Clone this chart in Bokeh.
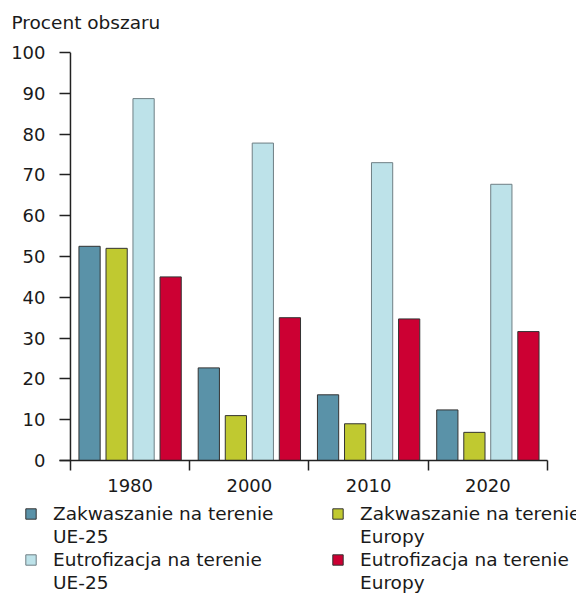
import numpy as np
from bokeh.plotting import figure
from bokeh.layouts import column
from bokeh.models import (ColumnDataSource, FixedTicker, Legend, LegendItem, Range1d, Span, Label)
from bokeh.transform import dodge
from bokeh.embed import file_html
from bokeh.resources import INLINE

years = ["1980", "2000", "2010", "2020"]
zakw_ue25 = [52.5, 22.7, 16.1, 12.4]
zakw_eur = [52.0, 11.0, 9.0, 6.9]
eutr_ue25 = [88.7, 77.8, 73.0, 67.7]
eutr_eur = [45.0, 35.0, 34.7, 31.6]
label_line1 = ["Zakwaszanie na terenie", "Zakwaszanie na terenie",
               "Eutrofizacja na terenie", "Eutrofizacja na terenie"]
label_line2 = ["UE-25", "Europy", "UE-25", "Europy"]
title_text = "Procent obszaru"
colors = ["#5a92a8", "#c0c930", "#bde2e9", "#cc0033"]
outlines = ["#333333", "#333333", "#6f7f84", "#333333"]
y_ticks = [0, 10, 20, 30, 40, 50, 60, 70, 80, 90, 100]

FONT = "DejaVu Sans"
TXT = "#1a1a1a"


def no_align(fig):
    if "frame_align" in fig.properties():
        fig.frame_align = False


xc = np.arange(len(years)) + 0.5
src = ColumnDataSource(dict(x=xc, a=zakw_ue25, b=zakw_eur, c=eutr_ue25, d=eutr_eur))
keys = ["a", "b", "c", "d"]

# ---- header with the unit label ----
hd = figure(width=576, height=36, output_backend="svg", toolbar_location=None,
            x_range=Range1d(0, 1), y_range=Range1d(0, 1),
            x_axis_location=None, y_axis_location=None,
            min_border_left=0, min_border_right=0, min_border_top=0, min_border_bottom=0)
hd.outline_line_color = None
hd.grid.grid_line_color = None
no_align(hd)
hd.add_layout(Label(x=11, y=14.5, x_units="screen", y_units="screen", text=title_text,
                    text_font=FONT, text_font_size="18.5px", text_color=TXT,
                    text_baseline="middle", text_align="left"))

# ---- main chart ----
p = figure(frame_width=488, frame_height=408, output_backend="svg", toolbar_location=None,
           x_range=Range1d(-0.092, 4), y_range=Range1d(0, 100),
           min_border_left=59, min_border_right=29, min_border_top=16, min_border_bottom=43)
p.outline_line_color = None
p.grid.grid_line_color = None
no_align(p)

offs = [-0.34, -0.113, 0.113, 0.34]
for key, off, col, lc in zip(keys, offs, colors, outlines):
    p.vbar(x=dodge("x", off), top=key, width=0.178, bottom=0, source=src,
           fill_color=col, line_color=lc, line_width=1)

ya = p.yaxis[0]
ya.ticker = FixedTicker(ticks=y_ticks)
ya.axis_line_color = None
ya.major_tick_in = 11
ya.major_tick_out = 0
ya.minor_tick_line_color = None
ya.major_label_standoff = 14
ya.major_label_text_font = FONT
ya.major_label_text_font_size = "18px"
ya.major_label_text_color = TXT
ya.major_tick_line_color = "#222222"
ya.major_tick_line_width = 1.5

p.add_layout(Span(location=0, dimension="height", line_color="#222222", line_width=1.5))

xa = p.xaxis[0]
xa.ticker = FixedTicker(ticks=list(xc), minor_ticks=list(range(len(years) + 1)))
xa.major_label_overrides = {float(v): y for v, y in zip(xc, years)}
xa.major_tick_line_color = None
xa.minor_tick_in = 0
xa.minor_tick_out = 10
xa.minor_tick_line_color = "#222222"
xa.minor_tick_line_width = 1.5
xa.axis_line_color = "#222222"
xa.axis_line_width = 1.5
xa.major_label_standoff = 8
xa.major_label_text_font = FONT
xa.major_label_text_font_size = "18px"
xa.major_label_text_color = TXT

# ---- legend panel below the chart ----
lg = figure(width=576, height=90, output_backend="svg", toolbar_location=None,
            x_range=Range1d(0, 1), y_range=Range1d(1000, 1001),
            x_axis_location=None, y_axis_location=None,
            min_border_left=24, min_border_right=0, min_border_top=0, min_border_bottom=0)
lg.outline_line_color = None
lg.grid.grid_line_color = None
no_align(lg)

# legend swatch renderers share the chart data (they fall outside this panel's range)
swatches = [lg.vbar(x=dodge("x", off), top=key, width=0.178, source=src,
                    fill_color=c, line_color=lc, line_width=1)
            for key, off, c, lc in zip(keys, offs, colors, outlines)]
blank = lg.vbar(x="x", top="a", width=0.178, source=src, fill_alpha=0, line_alpha=0)

items = []
for row in range(2):
    pair = [2 * row, 2 * row + 1]
    for k in pair:
        items.append(LegendItem(label=label_line1[k], renderers=[swatches[k]]))
    for k in pair:
        items.append(LegendItem(label=label_line2[k], renderers=[blank]))

legend = Legend(items=items, ncols=2, location="top_left", orientation="horizontal")
legend.border_line_color = None
legend.background_fill_alpha = 0
legend.label_text_font = FONT
legend.label_text_font_size = "18.5px"
legend.label_text_color = TXT
legend.glyph_width = 13
legend.glyph_height = 13
legend.label_standoff = 16
legend.label_width = 276
legend.label_height = 18
legend.spacing = 2
legend.padding = 0
legend.margin = 0
lg.add_layout(legend, "center")

layout = column(hd, p, lg, spacing=0)
open("out.html", "w").write(file_html(layout, INLINE))
